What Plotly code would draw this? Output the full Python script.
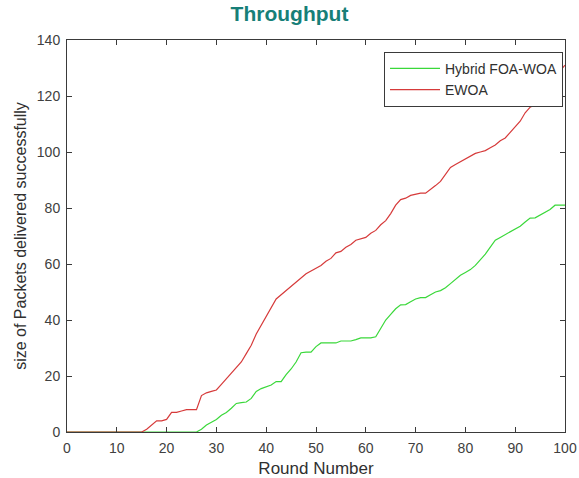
import plotly.graph_objects as go

rounds = list(range(0, 101))

ewoa = [0]*16 + [
    1, 2.5, 4, 4, 4.5, 7, 7, 7.5, 8, 8, 8, 13, 14, 14.5, 15,          # 16-30
    17, 19, 21, 23, 25, 28, 31, 35, 38, 41,                            # 31-40
    44, 47.5, 49, 50.5, 52, 53.5, 55, 56.5, 57.5, 58.5,                # 41-50
    59.5, 61, 62, 64, 64.5, 66, 67, 68.5, 69, 69.5,                    # 51-60
    71, 72, 74, 75.5, 78, 81, 83, 83.5, 84.5, 85,                      # 61-70
    85.3, 85.3, 86.5, 88, 89.5, 92, 94.5, 95.5, 96.5, 97.5,            # 71-80
    98.5, 99.5, 100, 100.5, 101.5, 102.5, 104, 105, 107, 109,          # 81-90
    111, 114, 116, 117, 118.5, 124, 126, 127.5, 129, 131               # 91-100
]

hybrid = [0]*27 + [
    1, 2.5, 3.5, 4.5,                                                  # 27-30
    6, 7, 8.5, 10.2, 10.5, 10.7, 12, 14.5, 15.5, 16.2,                 # 31-40
    16.8, 18, 18, 20.5, 22.5, 25, 28.3, 28.5, 28.5, 30.5,              # 41-50
    31.8, 31.8, 31.8, 31.8, 32.5, 32.5, 32.5, 33, 33.6, 33.6,          # 51-60
    33.6, 34, 37, 40, 42, 44, 45.4, 45.5, 46.5, 47.5,                  # 61-70
    48, 48, 49, 50, 50.5, 51.5, 53, 54.5, 56, 57,                      # 71-80
    58, 59.5, 61.5, 63.5, 66, 68.5, 69.5, 70.5, 71.5, 72.5,            # 81-90
    73.5, 75, 76.4, 76.5, 77.5, 78.3, 79.5, 81, 81, 81                 # 91-100
]

x_ticks = list(range(0, 101, 10))
y_ticks = list(range(0, 141, 20))

FONT = "Liberation Sans, Arial"

fig = go.Figure()
fig.add_trace(go.Scatter(x=rounds, y=hybrid, mode="lines", name="Hybrid FOA-WOA",
                         line=dict(color="#3ad83a", width=1.2)))
fig.add_trace(go.Scatter(x=rounds, y=ewoa, mode="lines", name="EWOA",
                         line=dict(color="#d63a3a", width=1.2)))

axis_common = dict(
    showline=True, linecolor="#3a3a3a", linewidth=1, mirror="ticks",
    ticks="inside", ticklen=5, tickcolor="#3a3a3a",
    showgrid=False, zeroline=False, automargin=False,
    tickfont=dict(family=FONT, size=14, color="#404040"),
)

fig.update_layout(
    width=579, height=478,
    margin=dict(l=67, r=14, t=40, b=46),
    paper_bgcolor="white", plot_bgcolor="white",
    title=dict(text="<b>Throughput</b>", x=0.5, xanchor="center", xref="container",
               y=0.972, yanchor="middle", yref="container",
               font=dict(family=FONT, size=21, color="#177f78")),
    xaxis=dict(range=[0, 100], tickvals=x_ticks, ticklabelstandoff=3,
               title=dict(text="Round Number", standoff=8,
                          font=dict(family=FONT, size=17, color="#303030")),
               **axis_common),
    yaxis=dict(range=[0, 140], tickvals=y_ticks, ticklabelstandoff=3,
               title=dict(text="size of Packets delivered successfully", standoff=6,
                          font=dict(family=FONT, size=16, color="#303030")),
               **axis_common),
    legend=dict(x=0.996, y=0.97, xanchor="right", yanchor="top",
                bgcolor="white", bordercolor="#3a3a3a", borderwidth=1,
                font=dict(family=FONT, size=14, color="#303030"),
                tracegroupgap=0, itemwidth=50),
    showlegend=True,
)

fig.write_html("out.html",
               config={"displayModeBar": False},
               post_script="document.body.style.margin='0px';document.body.style.padding='0px';")
